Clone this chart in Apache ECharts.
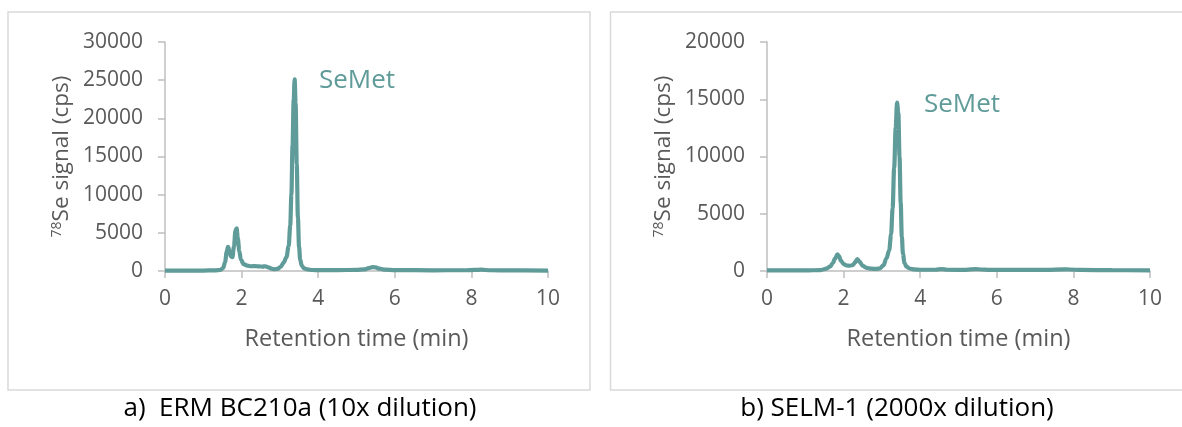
<!DOCTYPE html>
<html>
<head>
<meta charset="utf-8">
<script src="https://cdn.jsdelivr.net/npm/echarts@6/dist/echarts.min.js"></script>
<style>
html,body{margin:0;padding:0;background:#fff;}
#c{width:1182px;height:427px;}
</style>
</head>
<body>
<div id="c"></div>
<script>
// Panel a) ERM BC210a (10x dilution): [retention time (min), signal (cps)]
const timeA = [0,0.5,1.0,1.3,1.45,1.52,1.57,1.61,1.645,1.68,1.72,1.76,1.8,1.84,1.87,1.9,1.94,1.98,2.05,2.15,2.25,2.35,2.45,2.55,2.62,2.7,2.78,2.86,2.94,3.02,3.1,3.17,3.23,3.27,3.3,3.33,3.36,3.385,3.41,3.44,3.47,3.5,3.53,3.57,3.63,3.72,3.85,4.0,4.5,5.0,5.2,5.32,5.42,5.5,5.6,5.75,6.0,7.0,7.8,8.1,8.25,8.5,9.0,10.0];
const signalA = [60,50,60,80,150,400,1200,2500,3150,2700,1900,1800,3200,5300,5600,4300,2600,1500,900,700,620,650,600,580,620,480,300,230,280,550,1100,1800,3300,6000,10000,16500,22500,25100,22000,14000,7000,3200,1500,700,350,200,130,110,110,150,200,380,520,470,300,180,120,90,100,150,170,100,80,60];

// Panel b) SELM-1 (2000x dilution)
const timeB = [0,0.5,1.0,1.4,1.55,1.65,1.72,1.78,1.84,1.88,1.93,2.0,2.08,2.16,2.24,2.3,2.36,2.42,2.5,2.6,2.72,2.85,2.95,3.04,3.12,3.19,3.24,3.28,3.32,3.36,3.395,3.43,3.46,3.49,3.52,3.55,3.59,3.64,3.72,3.85,4.0,4.4,4.55,4.7,5.2,5.45,5.6,5.8,6.5,7.3,7.75,7.9,8.2,9.0,10.0];
const signalB = [60,50,50,80,200,400,700,1100,1450,1300,900,600,480,460,520,750,1050,800,450,280,200,180,230,500,1100,1800,3200,5500,9000,12500,14700,13800,10000,6000,3000,1500,700,380,220,140,110,110,170,110,100,170,130,100,90,90,150,130,90,70,50];

const yTicksA = {min:0,max:30000,interval:5000};
const yTicksB = {min:0,max:20000,interval:5000};
const xTicks = {min:0,max:10,interval:2};
const xTitle = 'Retention time (min)';
const yTitle = '{sup|78}Se signal (cps)';
const peakLabel = 'SeMet';
const captionA = 'a)  ERM BC210a (10x dilution)';
const captionB = 'b) SELM-1 (2000x dilution)';

const pairs = (xs, ys) => xs.map((x,i)=>[x, ys[i]]);

const FONT = '"Open Sans"';
const GREY = '#595959';
const AXIS = '#BFBFBF';
const TEAL = '#5F9B99';

function xAxis(gi){
  return {
    gridIndex: gi, type:'value', min:xTicks.min, max:xTicks.max, interval:xTicks.interval,
    name: xTitle, nameLocation:'middle', nameGap:56,
    nameTextStyle:{color:GREY, fontSize:23.5, fontFamily:FONT},
    axisLine:{show:true, lineStyle:{color:AXIS, width:1.5}},
    axisTick:{show:true, length:7, lineStyle:{color:AXIS, width:1.5}},
    axisLabel:{color:GREY, fontSize:21, fontFamily:FONT, margin:18, formatter:v=>String(v)},
    splitLine:{show:false}
  };
}
function yAxis(gi, t){
  return {
    gridIndex: gi, type:'value', min:t.min, max:t.max, interval:t.interval,
    name: yTitle, nameLocation:'middle', nameGap:92, nameRotate:90,
    nameTextStyle:{color:GREY, fontSize:22.5, fontFamily:FONT,
      rich:{sup:{fontSize:14, fontFamily:FONT, color:GREY, verticalAlign:'top', lineHeight:14}}},
    axisLine:{show:true, lineStyle:{color:AXIS, width:1.5}},
    axisTick:{show:true, length:7, lineStyle:{color:AXIS, width:1.5}},
    axisLabel:{color:GREY, fontSize:21, fontFamily:FONT, margin:22, formatter:v=>String(v)},
    splitLine:{show:false}
  };
}
function series(gi, data){
  return {
    type:'line', xAxisIndex:gi, yAxisIndex:gi, data:data, showSymbol:false,
    smooth:0.35, smoothMonotone:'x',
    lineStyle:{color:TEAL, width:4.2}, animation:false
  };
}

const chart = echarts.init(document.getElementById('c'), null, {renderer:'canvas'});
chart.setOption({
  animation:false,
  backgroundColor:'#fff',
  grid:[
    {left:165, right:1182-548, top:42, bottom:427-271},
    {left:767, right:1182-1150, top:42, bottom:427-271}
  ],
  xAxis:[xAxis(0), xAxis(1)],
  yAxis:[yAxis(0,yTicksA), yAxis(1,yTicksB)],
  series:[series(0, pairs(timeA, signalA)), series(1, pairs(timeB, signalB))],
  title:[
    {text:peakLabel, left:319, top:68, textStyle:{color:TEAL, fontSize:26, fontWeight:'normal', fontFamily:FONT}, padding:0},
    {text:peakLabel, left:924, top:92, textStyle:{color:TEAL, fontSize:26, fontWeight:'normal', fontFamily:FONT}, padding:0},
    {text:captionA, left:300, textAlign:'center', top:396, textStyle:{color:'#000', fontSize:26, fontWeight:'normal', fontFamily:FONT}, padding:0},
    {text:captionB, left:897, textAlign:'center', top:396, textStyle:{color:'#000', fontSize:26, fontWeight:'normal', fontFamily:FONT}, padding:0}
  ],
  graphic:[
    {type:'rect', shape:{x:8, y:12, width:582, height:378}, style:{fill:null, stroke:'#D9D9D9', lineWidth:1.5}, silent:true},
    {type:'rect', shape:{x:610.5, y:12, width:600, height:378}, style:{fill:null, stroke:'#D9D9D9', lineWidth:1.5}, silent:true}
  ]
});
</script>
</body>
</html>
